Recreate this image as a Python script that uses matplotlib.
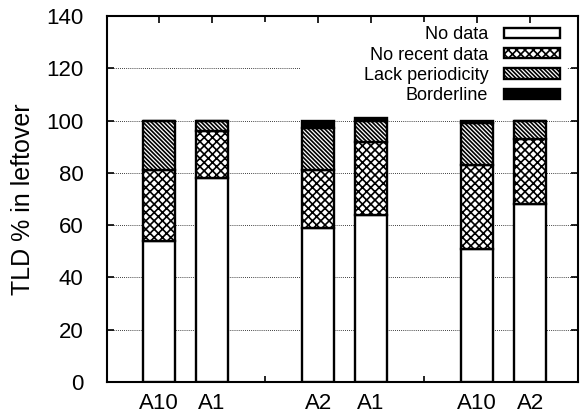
import numpy as np
import matplotlib.pyplot as plt
from matplotlib.patches import Rectangle

plt.rcParams['font.family'] = ['Liberation Sans', 'DejaVu Sans']
plt.rcParams['hatch.linewidth'] = 1.2

labels = ["A10", "A1", "A2", "A1", "A10", "A2"]
positions = [1, 2, 4, 5, 7, 8]
separators = [3, 6]

no_data = [54, 78, 59, 64, 51, 68]
no_recent = [27, 18, 22, 28, 32, 25]
lack_period = [19, 4, 16, 8, 16, 7]
borderline = [0, 0, 3, 1, 1, 0]

series = [
    ("No data", no_data, "white", ""),
    ("No recent data", no_recent, "white", "xxxx"),
    ("Lack periodicity", lack_period, "white", "\\" * 8),
    ("Borderline", borderline, "black", ""),
]


def main():
    fig = plt.figure(figsize=(5.86, 4.16), dpi=100)
    ax = fig.add_axes([0.1826, 0.0817, 0.8037, 0.8798])

    bottom = np.zeros(len(positions))
    for name, vals, color, hatch in series:
        vals = np.array(vals, dtype=float)
        ax.bar(positions, vals, width=0.6, bottom=bottom, color=color,
               edgecolor="black", hatch=hatch, linewidth=1.7,
               label=name, zorder=3)
        bottom += vals

    ax.set_xlim(0.02, 8.9)
    ax.set_ylim(0, 140)
    ax.set_yticks(np.arange(0, 141, 20))
    ax.set_xticks(positions)
    ax.set_xticklabels(labels)
    ax.set_xticks(separators, minor=True)

    for y in range(20, 140, 20):
        ax.axhline(y, color="black", linestyle=(0, (1, 1.5)), linewidth=0.6,
                   zorder=1)

    # white key area hides the grid behind the legend, like gnuplot
    ax.add_patch(Rectangle((0.41, 0.77), 0.566, 0.21, transform=ax.transAxes,
                           facecolor="white", edgecolor="none", zorder=2))

    ax.tick_params(axis="both", which="both", direction="in", labelsize=16,
                   width=1.2)
    ax.tick_params(axis="y", which="major", length=5, right=True, pad=17)
    ax.tick_params(axis="x", which="major", length=5, top=True, pad=8)
    ax.tick_params(axis="x", which="minor", length=4, top=True)
    for sp in ax.spines.values():
        sp.set_linewidth(1.5)

    ax.set_ylabel("TLD % in leftover", fontsize=18, labelpad=8)

    leg = ax.legend(loc="upper right", bbox_to_anchor=(0.988, 1.006),
                    markerfirst=False, fontsize=13, handlelength=3.1,
                    handleheight=0.5, handletextpad=0.85, labelspacing=0.18,
                    frameon=False, borderpad=0.2)
    leg.set_zorder(5)

    fig.savefig("out.png", dpi=100)


if __name__ == "__main__":
    main()
